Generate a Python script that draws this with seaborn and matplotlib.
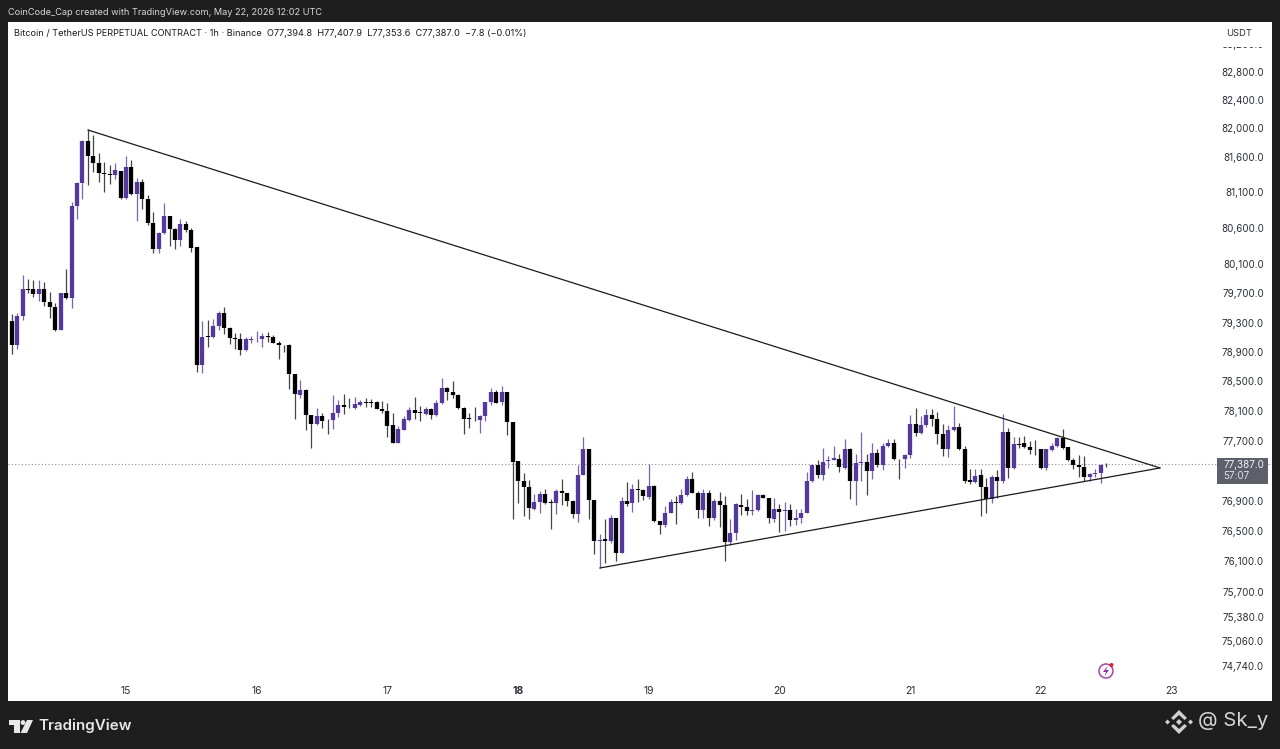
import numpy as np
import pandas as pd
import seaborn as sns
import matplotlib
matplotlib.use("Agg")
import matplotlib.pyplot as plt
from matplotlib.patches import Rectangle, Polygon, Circle
from matplotlib.ticker import NullLocator, NullFormatter

highs = [
79413,79435,79948,79893,79884,79884,79856,79719,79573,79710,
80031,80966,81245,81836,81986,81902,81657,81526,81479,81517,
81400,81610,81554,81306,81283,81059,80826,80548,80957,80771,
80609,80724,80701,80609,80336,79321,79330,79344,79458,79518,
79244,79162,79153,79108,79117,79185,79162,79171,79126,79049,
78999,79003,78605,78519,78392,78042,78145,78078,77988,78320,
78248,78325,78271,78293,78248,78271,78257,78235,78235,78203,
78078,77898,78033,78158,78289,78167,78158,78145,78248,78551,
78429,78505,78325,78158,78078,78158,78042,78221,78415,78383,
78438,78361,77952,77429,77265,77176,76985,77030,77052,76928,
77052,77185,77007,76910,77376,77750,77594,76909,76458,76655,
76708,76668,76949,77153,77127,77184,77051,77385,77104,76633,
76830,76918,76962,77060,77229,77282,77029,77060,77042,76927,
77015,76962,76655,76865,76984,76918,77038,76993,76993,76936,
76940,76852,76883,76852,76787,76787,77282,77385,77438,77607,
77496,77630,77518,77719,77607,77527,77817,77518,77674,77585,
77665,77728,77728,77460,77518,78043,78146,78034,78123,78132,
78087,77922,77908,78168,77944,77630,77318,77318,77318,77207,
77238,77309,78056,77877,77756,77756,77765,77698,77711,77595,
77595,77675,77756,77854,77621,77474,77505,77496,77274,77318,
77385,77408]

body_tops = [
79317,79390,79755,79764,79755,79764,79764,79582,79518,79710,
79700,80910,81236,81822,81822,81610,81517,81367,81362,81409,
81400,81456,81456,81245,81245,81012,80669,80530,80771,80771,
80595,80664,80664,80572,80336,79108,79117,79253,79426,79426,
79230,79094,79071,79071,79081,79081,79117,79117,79108,79026,
78994,78989,78596,78383,78383,78042,78033,78033,77983,78078,
78185,78185,78154,78194,78217,78221,78221,78226,78131,78095,
77907,77853,77988,78113,78113,78087,78131,78131,78203,78415,
78415,78361,78316,78145,78006,77997,78033,78221,78356,78361,
78361,78361,77952,77429,77163,77078,76888,76985,76994,76884,
77034,77034,76998,76892,77247,77594,77594,76909,76383,76392,
76668,76668,76892,76892,77060,77060,77038,77096,77096,76629,
76743,76887,76879,76971,77193,77193,77007,76998,76998,76896,
76892,76839,76480,76852,76848,76817,76773,76971,76971,76931,
76795,76795,76773,76773,76677,76743,77162,77371,77380,77420,
77442,77465,77460,77585,77585,77398,77416,77416,77532,77532,
77630,77674,77674,77460,77505,77922,77922,77913,78043,78043,
77989,77787,77846,77886,77886,77586,77172,77230,77238,77083,
77216,77221,77823,77823,77653,77653,77666,77622,77595,77586,
77586,77630,77742,77742,77617,77443,77380,77354,77261,77265,
77380,77395]

body_bottoms = [
78999,78999,79390,79746,79687,79687,79582,79518,79199,79199,
79641,79641,80910,81236,81610,81517,81367,81357,81348,81339,
81026,81026,81073,81073,81012,80669,80308,80308,80530,80595,
80438,80438,80576,80331,78719,78719,79103,79108,79253,79230,
79094,79076,78922,78922,79063,79071,79071,79108,79026,78994,
78990,78596,78325,78311,78042,77920,77920,77965,77979,77979,
78078,78154,78150,78145,78185,78203,78212,78131,78095,77898,
77675,77675,77844,77979,78078,78069,78060,78042,78042,78203,
78361,78316,78145,77997,77997,77988,77979,78033,78221,78212,
78221,77952,77420,77163,77078,76800,76795,76888,76875,76875,
76875,76998,76892,76720,76729,77247,76909,76370,76370,76374,
76370,76215,76215,76857,76865,77042,76962,76954,76633,76585,
76576,76743,76870,76865,76971,77007,76778,76778,76673,76673,
76839,76357,76357,76480,76817,76760,76765,76773,76936,76673,
76664,76752,76769,76646,76646,76677,76743,77162,77246,77246,
77429,77442,77344,77340,77167,77167,77407,77291,77291,77371,
77371,77630,77451,77452,77452,77505,77810,77801,77908,77989,
77787,77586,77586,77846,77586,77163,77150,77154,77083,76929,
76929,77159,77163,77341,77341,77649,77622,77581,77586,77336,
77336,77572,77630,77608,77443,77372,77354,77221,77221,77256,
77274,77387]

lows = [
78867,78935,79330,79710,79655,79595,79527,79367,79180,79199,
79627,79504,80733,81012,81203,81386,81245,81105,81212,81283,
81012,81012,81059,80701,80873,80641,80262,80262,80516,80354,
80317,80354,80548,80271,78629,78611,78972,79094,79199,79140,
79012,78945,78854,78913,79026,79035,78972,79035,79017,78809,
78899,78392,77997,78280,77844,77599,77907,77875,77786,77853,
78024,78055,78145,78122,78167,78158,78158,78122,78078,77750,
77675,77675,77840,77965,77988,77965,78042,77988,78033,78190,
78244,78271,78131,77795,77866,77965,77808,77965,78176,78203,
78176,77773,76663,76875,76698,76663,76778,76743,76853,76531,
76720,76840,76831,76676,76623,77243,76655,76202,76017,76083,
76348,76105,76207,76830,76752,76883,76905,76918,76620,76454,
76558,76734,76590,76852,76962,76998,76668,76677,76568,76646,
76558,76105,76312,76383,76708,76708,76712,76765,76931,76611,
76620,76489,76502,76568,76576,76611,76734,77149,77202,77175,
77340,77438,77282,77326,76918,76848,77162,76971,77193,77353,
77304,77621,77442,77185,77341,77474,77765,77787,77890,77899,
77653,77496,77483,77832,77577,77141,77119,77141,76699,76743,
76867,76942,77141,77207,77327,77608,77608,77518,77505,77327,
77305,77563,77621,77595,77429,77327,77221,77163,77163,77221,
77141,77354]

directions = (
"kppkkpkkkp" "kpppkkkkkp" "kpkpkkkppk" "kpkkkpkppk" "kkkppppkkk"
"kkkpkkpkkp" "pkkppkkkkk" "kpppkkpkpp" "kkkkkkpppk" "pkkkkkppkk"
"pkkkppkkpk" "pkpkpkkpkk" "ppkppkkpkp" "kkppkkppkk" "pkpkppppkp"
"ppkpkppkpk" "ppkkppkppk" "kkppkkkpkk" "pkpkpkkkkk" "pppkkkkkpp" "pk")

day_labels = ["15", "16", "17", "18", "19", "20", "21", "22", "23"]
day_start_hours = [21, 45, 69, 93, 117, 141, 165, 189, 213]
price_ticks = [83200, 82800, 82400, 82000, 81600, 81100, 80600, 80100, 79700, 79300,
               78900, 78500, 78100, 77700, 76900, 76500, 76100, 75700, 75380, 75060, 74740]
last_price = 77387.0
resistance_hours = [14.0, 210.9]
resistance_prices = [81976, 77336]
support_hours = [108.0, 210.9]
support_prices = [76013, 77336]

PURPLE = "#55389b"
DARK = "#1e1e1e"
TXT = "#2a2e39"

W, H = 1280, 749
sns.set_theme(style="white")
plt.rcParams["font.family"] = ["Inter", "DejaVu Sans"]
fig = plt.figure(figsize=(W / 100, H / 100), dpi=100, facecolor=DARK)
L, R, T, B = 8, 1272, 22, 701
ax = fig.add_axes([L / W, 1 - B / H, (R - L) / W, (B - T) / H], facecolor="white")

hours = np.arange(len(highs))
wicks = pd.DataFrame({
    "hour": np.r_[hours, hours],
    "price": np.r_[highs, lows],
    "candle": np.r_[hours, hours],
    "dir": list(directions) * 2,
})
bodies = pd.DataFrame({
    "hour": np.r_[hours, hours],
    "price": np.r_[body_tops, body_bottoms],
    "candle": np.r_[hours, hours],
    "dir": list(directions) * 2,
})
palette = {"k": "#000000", "p": PURPLE}
wick_palette = {"k": "#444444", "p": "#7a63b3"}
sns.lineplot(data=wicks, x="hour", y="price", hue="dir", units="candle", estimator=None,
             palette=wick_palette, linewidth=0.9, legend=False, ax=ax, sort=False,
             solid_capstyle="butt", zorder=2)
sns.lineplot(data=bodies, x="hour", y="price", hue="dir", units="candle", estimator=None,
             palette=palette, linewidth=3.1, legend=False, ax=ax, sort=False,
             solid_capstyle="butt", zorder=3)
for hrs, prc in ((resistance_hours, resistance_prices), (support_hours, support_prices)):
    sns.lineplot(x=hrs, y=prc, color="#1a1a1a", linewidth=0.9, ax=ax, zorder=4)

ax.axhline(last_price, color="#8a8d96", lw=0.8, ls=(0, (1, 2)), zorder=1)

ax.set_yscale("log")
ax.set_xlim((L - 11.7) / 5.445, (R - 11.7) / 5.445)
ax.set_ylim(82800 * np.exp(-(B - 72) / 5800), 82800 * np.exp(-(T - 72) / 5800))
ax.set_xlabel("")
ax.set_ylabel("")
ax.yaxis.set_minor_locator(NullLocator())
ax.yaxis.set_minor_formatter(NullFormatter())
ax.yaxis.tick_right()
ax.set_yticks(price_ticks)
ax.set_yticklabels([f"{p:,.1f}" for p in price_ticks], fontsize=7.1, color=TXT, ha="right")
ax.tick_params(axis="y", length=0, pad=-5.8)
ax.set_xticks(day_start_hours)
ax.set_xticklabels(day_labels, fontsize=7.4, color=TXT)
ax.tick_params(axis="x", length=0, pad=-10.5)
for lab in ax.get_xticklabels():
    if lab.get_text() == "18":
        lab.set_fontweight("bold")
for s in ax.spines.values():
    s.set_visible(False)

# overlay in pixel coordinates for the TradingView window furniture
ov = fig.add_axes([0, 0, 1, 1], facecolor="none")
ov.set_xlim(0, W)
ov.set_ylim(H, 0)
ov.axis("off")

ov.add_patch(Rectangle((1213, 22), 59, 24.5, fc="white", ec="none"))
ov.text(1239, 34, "USDT", fontsize=6.8, color=TXT, ha="center", va="center")
ov.add_patch(Rectangle((1217, 458), 51, 26, fc="#5d606b", ec="none"))
ov.text(1223, 465, "77,387.0", fontsize=7.1, color="#f4f4f6", ha="left", va="center")
ov.text(1223, 476, "57:07", fontsize=7.1, color="#e0e1e5", ha="left", va="center")

ov.text(8, 12.5, "CoinCode_Cap created with TradingView.com, May 22, 2026 12:02 UTC",
        fontsize=6.65, color="#d6d6d6", ha="left", va="center")
ov.text(14, 33.5,
        "Bitcoin / TetherUS PERPETUAL CONTRACT · 1h · Binance  O77,394.8  H77,407.9  L77,353.6  C77,387.0  −7.8 (−0.01%)",
        fontsize=6.6, color="#1a1a1a", ha="left", va="center")

# TradingView logo
logo = "#e8e8e8"
ov.add_patch(Polygon([(9, 720), (20, 720), (20, 733), (14, 733), (14, 725), (9, 725)], fc=logo, ec="none"))
ov.add_patch(Circle((23, 722.5), 2.4, fc=logo, ec="none"))
ov.add_patch(Polygon([(27, 720), (33, 720), (27, 733), (20.5, 733)], fc=logo, ec="none"))
ov.text(38, 726, "TradingView", fontsize=10.9, fontweight="semibold", color="#e8e8e8", ha="left", va="center")

# Binance mark and handle
bc = "#d0d0d0"
def diamond(cx, cy, r):
    ov.add_patch(Polygon([(cx - r, cy), (cx, cy - r), (cx + r, cy), (cx, cy + r)], fc=bc, ec="none"))
diamond(1167.5, 722, 2.5)
diamond(1190.5, 722, 2.5)
diamond(1179, 722, 3)
ov.add_patch(Polygon([(1171, 718), (1179, 710), (1187, 718), (1184.5, 720), (1179, 715), (1173.5, 720)], fc=bc, ec="none"))
ov.add_patch(Polygon([(1171, 726), (1179, 734), (1187, 726), (1184.5, 724), (1179, 729), (1173.5, 724)], fc=bc, ec="none"))
ov.text(1198, 721, "@ Sk_y", fontsize=14.6, color="#d6d6d6", ha="left", va="center")

# lightning marker
ov.add_patch(Circle((1106, 671), 7, fc="#fbf6fb", ec="#a04aa8", lw=1.1))
ov.add_patch(Polygon([(1107.5, 666), (1103, 672), (1106, 672), (1104.5, 676), (1109, 670), (1106, 670)], fc="#8a3a9c", ec="none"))
ov.add_patch(Circle((1111.5, 665), 2, fc="#d0203a", ec="none"))

fig.savefig("out.png", dpi=100, facecolor=DARK)
